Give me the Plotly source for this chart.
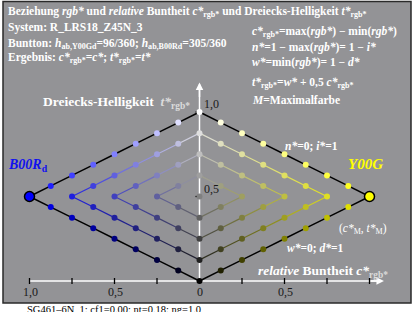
import plotly.graph_objects as go

W, H = 417, 312
# ---- data ----
levels = [0, 1/8, 2/8, 3/8, 4/8, 5/8, 6/8, 7/8, 1.0]   # rgb* steps (max / min)
hue_left = (0, 0, 255)      # B00R_d
hue_right = (255, 255, 0)   # Y00G
x_tick_vals = [-1.0, -0.75, -0.5, -0.25, 0.25, 0.5, 0.75, 1.0]
x_label_vals = [-1.0, -0.5, 0.0, 0.5]
x_label_text = ["1,0", "0,5", "0", "0,5"]
y_tick_vals = [0.5, 1.0]
y_label_text = ["0,5", "1,0"]

FONT = "Liberation Serif, Times New Roman, serif"
N = len(levels) - 1

# pixel mapping
X0, SX = 199.5, 170.0
Y0, SY = 281.0, 169.0
xr = [-X0 / SX, (W - X0) / SX]
yr = [(Y0 - H) / SY, Y0 / SY]


def ct(iM, im):
    M, m = levels[iM], levels[im]
    c = M - m
    return c, m + 0.5 * c


def col(iM, im, hue):
    M, m = levels[iM], levels[im]
    c = M - m
    return tuple(round(m * 255 + c * h) for h in hue)


def rgbs(t):
    return "rgb(%d,%d,%d)" % t


fig = go.Figure()

for sign, hue in [(-1, hue_left), (1, hue_right)]:
    for k in range(N // 2):
        upper = [(N - k, m) for m in range(k, N - k + 1)]
        lower = [(M, k) for M in range(N - k, k - 1, -1)]
        for branch in (upper, lower):
            for a, b in zip(branch[:-1], branch[1:]):
                ca, ta = ct(*a)
                cb, tb = ct(*b)
                if k == 0:
                    lc, lw = "black", 1.5
                else:
                    c1, c2 = col(*a, hue), col(*b, hue)
                    lc = rgbs(tuple((p + q) // 2 for p, q in zip(c1, c2)))
                    lw = 1.2
                fig.add_trace(go.Scatter(x=[sign * ca, sign * cb], y=[ta, tb], mode="lines",
                                         line=dict(color=lc, width=lw), hoverinfo="skip",
                                         showlegend=False))

# points
for sign, hue in [(-1, hue_left), (1, hue_right)]:
    xs, ys, cs = [], [], []
    for iM in range(N + 1):
        for im in range(iM + 1):
            if iM == im:
                continue
            if iM == N and im == 0:
                continue
            c, t = ct(iM, im)
            xs.append(sign * c)
            ys.append(t)
            cs.append(rgbs(col(iM, im, hue)))
    fig.add_trace(go.Scatter(x=xs, y=ys, mode="markers",
                             marker=dict(size=6, color=cs, line=dict(width=0)),
                             hoverinfo="skip", showlegend=False))
    c, t = ct(N, 0)
    fig.add_trace(go.Scatter(x=[sign * c], y=[t], mode="markers",
                             marker=dict(size=10, color=rgbs(hue), line=dict(width=1.5, color="black")),
                             hoverinfo="skip", showlegend=False))

# gray axis points
gx, gy, gc = [], [], []
for i in range(N + 1):
    c, t = ct(i, i)
    gx.append(0)
    gy.append(t)
    gc.append(rgbs(col(i, i, (0, 0, 0))))
fig.add_trace(go.Scatter(x=gx, y=gy, mode="markers",
                         marker=dict(size=6, color=gc, line=dict(width=0)),
                         hoverinfo="skip", showlegend=False))

shapes = []
# gray panel
shapes.append(dict(type="rect", xref="paper", yref="paper", x0=3 / W, x1=411 / W,
                   y0=1 - 303 / H, y1=1 - 1.5 / H, fillcolor="#939396",
                   line=dict(color="#2a2a2a", width=1.5), layer="below"))
# axes lines
shapes.append(dict(type="line", xref="x", yref="y", x0=-1.0, x1=1.06, y0=0, y1=0,
                   line=dict(color="white", width=1.5), layer="below"))
shapes.append(dict(type="line", xref="x", yref="y", x0=0, x1=0, y0=0, y1=1.15,
                   line=dict(color="white", width=1.5), layer="below"))
for v in x_tick_vals:
    shapes.append(dict(type="line", xref="x", yref="y", x0=v, x1=v, y0=-3 / SY, y1=3 / SY,
                       line=dict(color="black", width=1.3), layer="below"))
for v in y_tick_vals:
    shapes.append(dict(type="line", xref="x", yref="y", x0=-4 / SX, x1=1 / SX, y0=v, y1=v,
                       line=dict(color="black", width=1.3), layer="below"))

anns = []
# arrow heads
anns.append(dict(x=1.085, y=0, ax=1.0, ay=0, xref="x", yref="y", axref="x", ayref="y",
                 text="", showarrow=True, arrowhead=2, arrowsize=1, arrowwidth=1.5,
                 arrowcolor="white"))
anns.append(dict(x=0, y=1.175, ax=0, ay=1.08, xref="x", yref="y", axref="x", ayref="y",
                 text="", showarrow=True, arrowhead=2, arrowsize=1, arrowwidth=1.5,
                 arrowcolor="white"))


def txt(px, py, text, size=11.5, color="white", xanchor="left"):
    anns.append(dict(x=px / W, y=1 - py / H, xref="paper", yref="paper", text=text,
                     showarrow=False, xanchor=xanchor, yanchor="middle",
                     font=dict(family=FONT, size=size, color=color)))


# header
txt(6, 12, "<b>Beziehung <i>rgb*</i> und <i>relative</i> Buntheit <i>c*</i><sub>rgb*</sub> "
           "und Dreiecks-Helligkeit <i>t*</i><sub>rgb*</sub></b>")
txt(6, 27, "<b>System: R_LRS18_Z45N_3</b>")
txt(6, 44, "<b>Buntton: <i>h</i><sub>ab,Y00Gd</sub>=96/360; <i>h</i><sub>ab,B00Rd</sub>=305/360</b>")
txt(6, 58, "<b>Ergebnis: <i>c*</i><sub>rgb*</sub>=<i>c*</i>; <i>t*</i><sub>rgb*</sub>=<i>t*</i></b>")
# right column
txt(250, 32, "<b><i>c*</i><sub>rgb*</sub>=max(<i>rgb*</i>) − min(<i>rgb*</i>)</b>")
txt(250, 47, "<b><i>n*</i>=1 − max(<i>rgb*</i>)= 1 − <i>i*</i></b>")
txt(250, 63, "<b><i>w*</i>=min(<i>rgb*</i>)= 1 − <i>d*</i></b>")
txt(250, 83, "<b><i>t*</i><sub>rgb*</sub>=<i>w*</i> + 0,5 <i>c*</i><sub>rgb*</sub></b>")
txt(250, 100, "<b><i>M</i>=Maximalfarbe</b>")
# axis titles
txt(41, 103, "<b>Dreiecks-Helligkeit  <span style='color:#dcdcdc'><i>t*</i><sub>rgb*</sub></span></b>", size=13.5)
txt(256, 271, "<b><i>relative</i> Buntheit <i>c*</i><span style='color:#dcdcdc'><sub>rgb*</sub></span></b>", size=13.5)
# labels
txt(283, 146, "<b><i>n*</i>=0; <i>i*</i>=1</b>")
txt(285, 248, "<b><i>w*</i>=0; <i>d*</i>=1</b>")
txt(337, 229, "(<i>c*</i><sub>M</sub>, <i>t*</i><sub>M</sub>)")
txt(346, 164, "<b><i>Y00G</i></b>", size=15, color="#ffff00")
txt(6, 165, "<b><i>B00R</i><sub>d</sub></b>", size=14, color="#1010f0")
# tick labels
for v, s in zip(x_label_vals, x_label_text):
    txt(X0 + v * SX + (1 if s != "0" else 0), 292, s, size=12, color="#1a1a1a", xanchor="center")
for v, s in zip(y_tick_vals, y_label_text):
    txt(202, Y0 - v * SY - 8, s, size=12, color="#1a1a1a")
# footer
txt(25, 309, "SG461–6N_1; cf1=0.00; nt=0.18; ng=1.0", size=10.5, color="black")

fig.update_layout(width=W, height=H, autosize=False, margin=dict(l=0, r=0, t=0, b=0),
                  paper_bgcolor="white", plot_bgcolor="rgba(0,0,0,0)",
                  xaxis=dict(range=xr, visible=False, fixedrange=True),
                  yaxis=dict(range=yr, visible=False, fixedrange=True),
                  shapes=shapes, annotations=anns, showlegend=False)
fig.write_html("out.html", config={"displayModeBar": False},
               post_script="document.body.style.margin='0';document.body.style.overflow='hidden';")
